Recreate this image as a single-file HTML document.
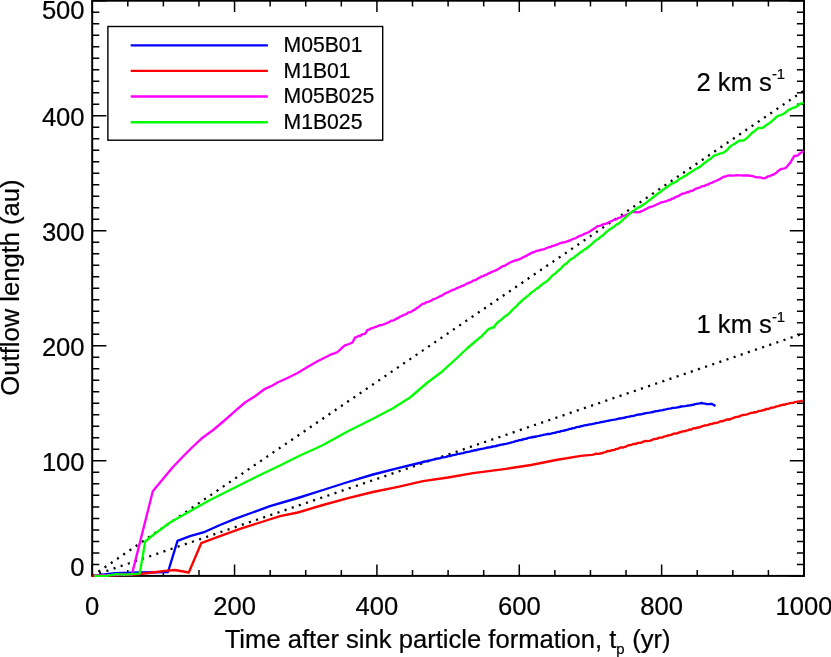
<!DOCTYPE html>
<html><head><meta charset="utf-8"><title>Outflow length</title>
<style>html,body{margin:0;padding:0;background:#fff;}svg{display:block;will-change:transform;}text{font-family:"Liberation Sans",sans-serif;fill:#000;stroke:#000;stroke-width:0.22px;}</style>
</head><body>
<svg width="831" height="657" viewBox="0 0 831 657">
<rect x="0" y="0" width="831" height="657" fill="#ffffff"/>
<rect x="92.20" y="0.70" width="711.80" height="575.20" fill="none" stroke="#000" stroke-width="2.00"/>
<path d="M92.20 575.90v-11.4 M92.20 0.70v11.4 M127.79 575.90v-5.8 M127.79 0.70v5.8 M163.38 575.90v-5.8 M163.38 0.70v5.8 M198.97 575.90v-5.8 M198.97 0.70v5.8 M234.56 575.90v-11.4 M234.56 0.70v11.4 M270.15 575.90v-5.8 M270.15 0.70v5.8 M305.74 575.90v-5.8 M305.74 0.70v5.8 M341.33 575.90v-5.8 M341.33 0.70v5.8 M376.92 575.90v-11.4 M376.92 0.70v11.4 M412.51 575.90v-5.8 M412.51 0.70v5.8 M448.10 575.90v-5.8 M448.10 0.70v5.8 M483.69 575.90v-5.8 M483.69 0.70v5.8 M519.28 575.90v-11.4 M519.28 0.70v11.4 M554.87 575.90v-5.8 M554.87 0.70v5.8 M590.46 575.90v-5.8 M590.46 0.70v5.8 M626.05 575.90v-5.8 M626.05 0.70v5.8 M661.64 575.90v-11.4 M661.64 0.70v11.4 M697.23 575.90v-5.8 M697.23 0.70v5.8 M732.82 575.90v-5.8 M732.82 0.70v5.8 M768.41 575.90v-5.8 M768.41 0.70v5.8 M804.00 575.90v-11.4 M804.00 0.70v11.4 M92.20 575.90h14.2 M804.00 575.90h-14.2 M92.20 564.40h7.1 M804.00 564.40h-7.1 M92.20 552.89h7.1 M804.00 552.89h-7.1 M92.20 541.39h7.1 M804.00 541.39h-7.1 M92.20 529.88h7.1 M804.00 529.88h-7.1 M92.20 518.38h7.1 M804.00 518.38h-7.1 M92.20 506.88h7.1 M804.00 506.88h-7.1 M92.20 495.37h7.1 M804.00 495.37h-7.1 M92.20 483.87h7.1 M804.00 483.87h-7.1 M92.20 472.36h7.1 M804.00 472.36h-7.1 M92.20 460.86h14.2 M804.00 460.86h-14.2 M92.20 449.36h7.1 M804.00 449.36h-7.1 M92.20 437.85h7.1 M804.00 437.85h-7.1 M92.20 426.35h7.1 M804.00 426.35h-7.1 M92.20 414.84h7.1 M804.00 414.84h-7.1 M92.20 403.34h7.1 M804.00 403.34h-7.1 M92.20 391.84h7.1 M804.00 391.84h-7.1 M92.20 380.33h7.1 M804.00 380.33h-7.1 M92.20 368.83h7.1 M804.00 368.83h-7.1 M92.20 357.32h7.1 M804.00 357.32h-7.1 M92.20 345.82h14.2 M804.00 345.82h-14.2 M92.20 334.32h7.1 M804.00 334.32h-7.1 M92.20 322.81h7.1 M804.00 322.81h-7.1 M92.20 311.31h7.1 M804.00 311.31h-7.1 M92.20 299.80h7.1 M804.00 299.80h-7.1 M92.20 288.30h7.1 M804.00 288.30h-7.1 M92.20 276.80h7.1 M804.00 276.80h-7.1 M92.20 265.29h7.1 M804.00 265.29h-7.1 M92.20 253.79h7.1 M804.00 253.79h-7.1 M92.20 242.28h7.1 M804.00 242.28h-7.1 M92.20 230.78h14.2 M804.00 230.78h-14.2 M92.20 219.28h7.1 M804.00 219.28h-7.1 M92.20 207.77h7.1 M804.00 207.77h-7.1 M92.20 196.27h7.1 M804.00 196.27h-7.1 M92.20 184.76h7.1 M804.00 184.76h-7.1 M92.20 173.26h7.1 M804.00 173.26h-7.1 M92.20 161.76h7.1 M804.00 161.76h-7.1 M92.20 150.25h7.1 M804.00 150.25h-7.1 M92.20 138.75h7.1 M804.00 138.75h-7.1 M92.20 127.24h7.1 M804.00 127.24h-7.1 M92.20 115.74h14.2 M804.00 115.74h-14.2 M92.20 104.24h7.1 M804.00 104.24h-7.1 M92.20 92.73h7.1 M804.00 92.73h-7.1 M92.20 81.23h7.1 M804.00 81.23h-7.1 M92.20 69.72h7.1 M804.00 69.72h-7.1 M92.20 58.22h7.1 M804.00 58.22h-7.1 M92.20 46.72h7.1 M804.00 46.72h-7.1 M92.20 35.21h7.1 M804.00 35.21h-7.1 M92.20 23.71h7.1 M804.00 23.71h-7.1 M92.20 12.20h7.1 M804.00 12.20h-7.1 M92.20 0.70h14.2 M804.00 0.70h-14.2" stroke="#000" stroke-width="1.50" fill="none"/>
<g>
<line x1="92.20" y1="575.90" x2="804.00" y2="333.22" stroke="#000" stroke-width="2.3" stroke-dasharray="2.1 5.43" stroke-dashoffset="0.05"/>
<line x1="92.20" y1="575.90" x2="804.00" y2="90.55" stroke="#000" stroke-width="2.3" stroke-dasharray="2.1 5.43" stroke-dashoffset="0.05"/>
<polyline points="94.6,575.6 100.0,574.9 115.0,573.2 140.0,572.5 168.0,572.0 177.5,540.8 190.0,536.2 205.0,531.8 220.0,525.0 235.0,518.8 252.5,512.5 270.0,506.2 297.8,498.0 323.0,490.0 348.0,482.0 373.0,474.5 398.0,468.2 421.3,462.5 423.0,462.0 424.7,461.5 426.3,461.3 428.0,460.7 429.7,460.5 431.3,460.1 433.0,459.7 434.7,459.3 436.3,458.8 438.0,458.5 439.7,458.3 441.3,457.6 443.0,457.3 444.7,457.1 446.3,456.8 448.0,456.2 449.7,456.1 451.3,455.6 453.0,455.1 454.7,454.8 456.3,454.5 458.0,453.9 459.7,453.8 461.3,453.4 463.0,453.2 464.7,452.5 466.3,452.2 468.0,451.9 469.7,451.6 471.3,451.0 473.0,450.8 474.6,450.2 476.3,450.2 477.9,449.5 479.6,449.4 481.2,448.9 482.9,448.7 484.6,448.3 486.2,447.9 487.9,447.5 489.5,447.3 491.1,447.0 492.8,446.5 494.4,446.4 496.1,446.0 497.8,445.5 499.4,445.2 501.1,444.6 502.7,444.5 504.4,444.1 506.0,443.8 507.7,443.4 509.3,443.1 511.0,442.5 512.7,442.2 514.3,441.7 516.0,441.0 517.7,440.8 519.3,440.2 521.0,440.0 522.7,439.5 524.3,439.0 526.0,438.9 527.7,438.1 529.3,437.7 531.0,437.5 532.7,437.0 534.3,437.0 536.0,436.5 537.7,436.2 539.3,435.8 541.0,435.3 542.7,435.1 544.3,434.7 546.0,434.4 547.7,434.0 549.3,434.0 551.0,433.6 552.7,433.1 554.3,432.9 556.0,432.5 557.7,431.9 559.3,431.9 561.0,431.1 562.7,430.8 564.3,430.5 566.0,430.1 567.7,429.7 569.3,429.0 571.0,428.8 572.7,428.1 574.3,428.1 576.0,427.3 577.7,426.9 579.3,426.9 581.0,426.2 582.7,426.0 584.3,425.4 586.0,425.1 587.7,425.0 589.3,424.4 591.0,424.4 592.7,423.9 594.3,423.7 596.0,423.2 597.7,422.8 599.3,422.7 601.0,422.0 602.7,422.0 604.3,421.5 606.0,421.2 607.7,420.8 609.3,420.5 611.0,420.2 612.7,419.8 614.3,419.7 616.0,419.3 617.7,418.8 619.3,418.5 621.0,418.3 622.7,418.0 624.3,417.8 626.0,417.1 627.7,416.8 629.3,416.6 631.0,416.2 632.7,416.1 634.3,415.6 636.0,415.2 637.7,414.7 639.3,414.5 641.0,414.3 642.7,413.8 644.3,413.5 646.0,413.2 647.7,412.9 649.3,412.7 651.0,412.4 652.7,412.0 654.3,411.6 656.0,411.2 657.7,411.0 659.3,410.7 661.0,410.4 662.7,410.2 664.3,409.6 666.0,409.3 667.7,408.8 669.3,408.7 671.0,408.4 672.7,407.9 674.3,407.8 676.0,407.6 677.7,407.3 679.3,407.0 681.0,406.5 682.8,406.4 684.6,406.2 686.4,405.9 688.2,405.5 690.0,405.3 691.6,405.0 693.3,404.8 694.9,404.1 696.6,403.8 698.2,403.6 699.9,403.4 701.5,403.0 703.3,403.4 705.2,403.6 707.0,404.1 708.7,404.1 710.3,404.0 712.0,403.9 713.8,405.0 715.5,406.0" fill="none" stroke="#0000ff" stroke-width="2.35" stroke-linejoin="round" stroke-linecap="butt"/>
<polyline points="92.4,575.8 100.0,575.7 135.0,574.5 152.5,572.5 165.0,570.8 175.0,570.0 188.8,572.5 201.2,543.2 220.0,536.2 240.0,528.8 260.0,522.5 280.0,516.2 297.8,512.5 323.0,505.0 348.0,498.2 373.0,492.0 398.0,486.8 423.0,481.2 448.0,477.5 473.0,473.2 506.0,468.8 531.0,465.0 556.0,460.0 581.0,455.8 591.5,454.9 593.2,454.6 595.0,454.0 596.8,453.6 598.5,453.8 600.3,453.5 602.1,453.2 603.9,452.4 605.6,452.2 607.4,451.0 609.2,451.2 611.0,450.5 612.7,450.2 614.3,449.9 616.0,449.0 617.7,448.9 619.3,448.0 621.0,447.3 622.7,447.6 624.3,447.0 626.0,446.6 627.7,445.6 629.3,445.1 631.0,445.0 632.7,444.2 634.3,444.0 636.0,443.9 637.7,443.0 639.3,442.9 641.0,442.8 642.7,441.9 644.3,441.3 646.0,440.9 647.7,441.1 649.3,440.8 651.0,440.3 652.7,439.6 654.3,439.0 656.0,438.8 657.7,438.5 659.3,437.6 661.0,437.7 662.7,437.3 664.3,436.4 666.0,436.2 667.7,435.5 669.3,435.4 671.0,434.9 672.7,434.2 674.3,433.5 676.0,433.7 677.7,433.2 679.3,432.3 681.0,432.0 682.7,431.3 684.3,431.4 686.0,430.6 687.7,430.4 689.3,429.5 691.0,429.7 692.7,428.6 694.3,428.2 696.0,428.2 697.7,427.4 699.3,427.5 701.0,426.7 702.7,426.1 704.3,425.5 706.0,425.4 707.6,425.2 709.3,424.4 710.9,424.0 712.5,423.8 714.1,422.9 715.8,423.1 717.4,422.7 719.0,422.1 720.6,421.2 722.3,421.4 723.9,420.7 725.6,419.9 727.3,419.5 729.0,419.5 730.7,419.0 732.4,418.4 734.1,417.7 735.8,417.0 737.5,416.8 739.2,416.5 740.9,415.6 742.6,415.0 744.3,414.8 746.0,414.6 747.7,414.1 749.4,413.5 751.1,412.8 752.8,412.9 754.5,412.2 756.2,412.2 757.9,411.4 759.6,410.9 761.3,410.9 763.0,409.9 764.7,410.0 766.3,408.8 768.0,409.2 769.7,408.3 771.4,407.6 773.1,407.5 774.8,407.1 776.5,406.4 778.2,406.1 779.9,405.5 781.6,405.1 783.3,404.7 785.0,404.7 786.7,403.8 788.4,403.6 790.1,403.2 791.8,402.9 793.6,402.8 795.5,401.8 797.3,401.7 799.1,401.3 801.0,401.2 802.8,400.7" fill="none" stroke="#ff0000" stroke-width="2.35" stroke-linejoin="round" stroke-linecap="butt"/>
<polyline points="94.6,575.7 131.9,574.4 152.8,491.2 162.5,479.4 172.5,467.5 182.5,457.0 192.5,447.0 201.2,438.8 213.8,429.5 225.0,420.0 235.0,411.2 245.0,402.5 255.0,396.2 265.0,388.8 272.5,385.5 277.5,382.5 287.5,378.0 297.5,373.0 307.5,367.0 317.5,361.2 320.0,360.0 330.0,355.0 331.9,354.0 333.8,353.7 335.6,352.8 337.5,352.0 339.6,350.1 341.7,348.2 343.8,346.2 345.5,345.1 347.2,344.6 349.0,344.0 350.8,343.2 352.5,342.5 355.0,337.5 356.7,337.1 358.3,336.0 360.0,336.0 361.7,334.7 363.3,334.2 365.0,333.8 367.5,330.0 369.4,329.5 371.2,328.3 373.1,327.8 375.0,327.0 376.7,326.6 378.3,325.8 380.0,325.1 381.7,325.2 383.3,324.5 385.0,323.8 386.7,323.0 388.3,322.6 390.0,321.6 391.7,320.6 393.3,320.5 395.0,319.5 396.7,318.4 398.3,318.0 400.0,316.6 401.7,316.0 403.3,315.2 405.0,314.5 406.7,313.9 408.3,312.4 410.0,312.2 411.7,311.5 413.3,310.4 415.0,309.5 416.9,308.0 418.8,306.9 420.6,305.4 422.5,303.8 424.4,303.5 426.2,302.3 428.1,301.8 430.0,301.2 431.7,300.2 433.3,299.2 435.0,298.8 436.7,298.0 438.3,297.2 440.0,296.2 441.7,295.7 443.3,294.6 445.0,293.5 446.7,292.7 448.3,292.1 450.0,291.2 451.7,290.4 453.3,289.6 455.0,289.3 456.7,288.2 458.3,287.6 460.0,287.0 461.7,286.0 463.3,285.6 465.0,284.7 466.7,283.8 468.3,283.0 470.0,282.5 471.7,281.7 473.3,280.4 475.0,280.3 476.7,279.4 478.3,278.2 480.0,277.5 481.7,276.3 483.3,276.2 485.0,275.0 486.7,274.7 488.3,273.4 490.0,273.0 491.7,271.8 493.3,271.3 495.0,270.7 496.7,269.9 498.3,269.0 500.0,268.0 501.7,266.7 503.3,266.1 505.0,265.6 506.7,264.5 508.3,263.5 510.0,262.5 511.7,261.8 513.3,261.2 515.0,260.5 516.7,260.0 518.3,259.8 520.0,258.8 521.8,258.1 523.6,256.9 525.4,256.5 527.1,255.3 528.9,254.4 530.7,253.4 532.5,252.5 534.3,252.0 536.1,251.1 537.9,250.5 539.6,250.4 541.4,249.6 543.2,249.5 545.0,248.8 546.8,248.0 548.6,247.2 550.4,247.1 552.1,246.0 553.9,245.8 555.7,244.9 557.5,244.5 559.3,243.5 561.1,242.9 562.9,242.5 564.6,242.4 566.4,241.6 568.2,241.0 570.0,240.5 571.8,239.5 573.6,238.7 575.4,238.3 577.1,237.2 578.9,236.2 580.7,235.6 582.5,235.0 584.4,233.8 586.2,233.2 588.1,232.5 590.0,231.2 591.9,230.0 593.8,228.8 595.6,227.7 597.5,226.2 599.4,225.9 601.2,225.4 603.1,224.4 605.0,223.8 606.7,223.5 608.3,222.5 610.0,221.7 611.7,221.0 613.3,220.2 615.0,219.5 616.7,219.2 618.3,217.8 620.0,217.7 621.7,216.5 623.3,216.0 625.0,215.5 626.9,214.5 628.8,213.9 630.6,212.8 632.5,212.0 634.4,211.9 636.2,212.2 638.1,212.2 640.0,212.0 641.7,210.9 643.3,210.6 645.0,209.3 646.7,208.8 648.3,207.7 650.0,207.0 651.7,206.6 653.3,206.0 655.0,205.3 656.7,204.5 658.3,203.8 660.0,203.0 661.7,202.1 663.3,202.2 665.0,201.3 666.7,201.1 668.3,200.2 670.0,200.0 671.7,198.7 673.3,198.6 675.0,197.3 676.7,196.7 678.3,196.2 680.0,195.0 681.7,194.1 683.3,193.4 685.0,193.4 686.7,192.2 688.3,192.3 690.0,191.2 691.7,191.0 693.3,190.3 695.0,189.1 696.7,188.3 698.3,188.0 700.0,187.4 702.1,186.2 704.2,186.0 706.3,184.9 708.2,184.5 710.1,183.1 712.0,182.8 713.9,181.6 715.8,181.0 717.8,180.0 719.8,179.2 721.7,177.9 723.7,176.7 725.8,176.5 727.9,175.5 730.0,175.4 731.6,175.7 733.2,175.6 734.8,175.4 736.4,175.1 738.0,175.4 739.6,175.4 741.4,175.4 743.3,175.5 745.1,175.4 746.9,175.5 748.8,175.5 750.6,175.8 752.7,176.2 754.9,176.8 757.0,177.3 758.8,177.4 760.5,177.4 762.3,178.1 764.1,178.3 765.9,177.7 767.8,176.5 769.6,176.2 771.7,175.1 773.8,174.4 775.9,173.1 777.8,171.3 779.6,170.0 781.5,168.8 783.5,168.6 785.4,168.0 787.0,166.6 788.6,164.3 790.2,162.8 792.4,159.0 794.6,155.7 796.4,155.8 798.1,155.2 799.9,153.4 801.8,152.3 803.6,150.9" fill="none" stroke="#ff00ff" stroke-width="2.35" stroke-linejoin="round" stroke-linecap="butt"/>
<polyline points="94.4,575.8 108.0,575.7 116.0,574.1 124.0,574.7 139.7,573.6 145.2,541.5 152.5,535.5 170.0,522.5 190.0,511.2 210.0,500.0 230.0,490.0 242.5,483.8 260.0,475.0 280.0,465.5 300.0,455.5 315.0,448.8 323.0,445.0 348.0,431.2 373.0,418.8 393.0,408.2 410.0,397.5 427.5,382.5 442.5,371.2 457.5,357.5 467.5,348.0 480.0,337.5 481.8,336.1 483.5,334.2 485.2,332.6 487.0,330.6 488.8,328.8 490.4,328.5 492.1,327.5 493.8,327.5 495.6,324.7 497.5,322.5 499.3,321.1 501.1,319.9 502.9,318.2 504.6,316.7 506.4,315.4 508.2,314.3 510.0,312.5 511.7,310.6 513.3,309.0 515.0,307.2 516.7,306.2 518.3,303.9 520.0,302.5 521.7,301.0 523.3,299.2 525.0,298.2 526.7,296.6 528.3,295.5 530.0,293.8 531.7,292.3 533.3,291.5 535.0,289.9 536.7,288.6 538.3,287.8 540.0,286.1 541.7,284.8 543.3,283.4 545.0,282.5 546.8,281.2 548.6,279.6 550.4,277.9 552.1,275.7 553.9,274.4 555.7,273.1 557.5,271.2 559.3,269.8 561.1,268.3 562.9,266.1 564.6,264.5 566.4,263.6 568.2,261.7 570.0,260.0 571.8,258.6 573.6,257.9 575.4,256.2 577.1,254.9 578.9,253.7 580.7,252.1 582.5,251.2 584.3,249.6 586.1,248.7 587.9,247.3 589.6,245.8 591.4,244.5 593.2,242.7 595.0,241.2 596.8,239.7 598.6,238.7 600.4,236.9 602.1,236.0 603.9,234.5 605.7,232.5 607.5,231.2 609.3,229.6 611.1,228.8 612.9,227.5 614.6,226.1 616.4,224.6 618.2,223.9 620.0,222.5 621.8,220.8 623.6,219.0 625.4,217.7 627.1,216.0 628.9,214.5 630.7,212.9 632.5,211.2 634.3,210.4 636.1,208.8 637.9,207.8 639.6,206.9 641.4,206.2 643.2,204.6 645.0,203.8 646.8,202.4 648.6,200.5 650.4,199.7 652.1,198.0 653.9,196.8 655.7,195.2 657.5,193.8 659.3,192.7 661.1,191.6 662.9,189.7 664.6,188.7 666.4,187.6 668.2,186.2 670.0,185.0 671.8,183.5 673.6,183.0 675.4,182.0 677.1,181.1 678.9,179.3 680.7,178.4 682.5,177.5 684.3,176.2 686.1,175.5 687.9,174.0 689.6,172.9 691.4,171.7 693.2,170.8 695.0,169.5 696.7,168.5 698.3,167.8 700.0,166.7 702.0,165.2 704.0,163.3 705.9,162.0 707.9,160.4 709.9,159.3 711.8,157.7 713.8,155.9 715.8,154.9 717.8,154.6 719.8,153.4 721.7,153.4 723.7,152.5 725.7,151.1 727.7,149.4 729.6,147.0 731.6,145.4 733.2,144.5 734.8,143.8 736.4,142.7 738.0,141.4 739.6,140.6 741.5,140.4 743.5,140.6 745.3,139.4 747.0,137.8 748.8,136.3 750.6,134.3 752.6,132.3 754.5,131.4 756.5,129.2 758.5,128.0 760.9,128.2 763.3,127.5 765.3,125.8 767.2,124.5 769.2,123.3 771.2,121.6 773.3,120.0 775.4,117.9 777.5,116.1 779.9,115.4 782.3,114.5 784.4,113.3 786.5,111.7 788.6,109.8 790.7,109.2 792.8,107.8 794.9,107.4 797.0,106.2 799.2,104.5 801.3,103.4 803.6,103.0" fill="none" stroke="#00ff00" stroke-width="2.35" stroke-linejoin="round" stroke-linecap="butt"/>
</g>
<text x="92.2" y="614.6" font-size="25.6" text-anchor="middle">0</text>
<text x="234.6" y="614.6" font-size="25.6" text-anchor="middle">200</text>
<text x="376.9" y="614.6" font-size="25.6" text-anchor="middle">400</text>
<text x="519.3" y="614.6" font-size="25.6" text-anchor="middle">600</text>
<text x="661.6" y="614.6" font-size="25.6" text-anchor="middle">800</text>
<text x="804.0" y="614.6" font-size="25.6" text-anchor="middle">1000</text>
<text x="84.6" y="576.2" font-size="25.6" text-anchor="end">0</text>
<text x="84.6" y="470.9" font-size="25.6" text-anchor="end">100</text>
<text x="84.6" y="355.8" font-size="25.6" text-anchor="end">200</text>
<text x="84.6" y="240.8" font-size="25.6" text-anchor="end">300</text>
<text x="84.6" y="125.7" font-size="25.6" text-anchor="end">400</text>
<text x="84.6" y="18.9" font-size="25.6" text-anchor="end">500</text>
<text x="224.7" y="647.6" font-size="25.6">Time after sink particle formation, t<tspan font-size="14.9" dy="6.4">p</tspan><tspan dy="-6.4" dx="0.5"> (yr)</tspan></text>
<text transform="translate(18.8,287.5) rotate(-90)" font-size="25.6" text-anchor="middle">Outflow length (au)</text>
<text x="696.5" y="90.9" font-size="25.6">2 km s<tspan font-size="14.9" dy="-11.5">-1</tspan></text>
<text x="696.5" y="333.0" font-size="25.6">1 km s<tspan font-size="14.9" dy="-11.5">-1</tspan></text>
<rect x="107.9" y="26.5" width="274.8" height="113.7" fill="#fff" stroke="#000" stroke-width="1.4"/>
<line x1="130.7" y1="45.3" x2="267.9" y2="45.3" stroke="#0000ff" stroke-width="2.35"/>
<text x="283.5" y="51.9" font-size="21.2">M05B01</text>
<line x1="130.7" y1="70.9" x2="267.9" y2="70.9" stroke="#ff0000" stroke-width="2.35"/>
<text x="283.5" y="77.5" font-size="21.2">M1B01</text>
<line x1="130.7" y1="96.5" x2="267.9" y2="96.5" stroke="#ff00ff" stroke-width="2.35"/>
<text x="283.5" y="103.1" font-size="21.2">M05B025</text>
<line x1="130.7" y1="122.2" x2="267.9" y2="122.2" stroke="#00ff00" stroke-width="2.35"/>
<text x="283.5" y="128.8" font-size="21.2">M1B025</text>
</svg></body></html>
